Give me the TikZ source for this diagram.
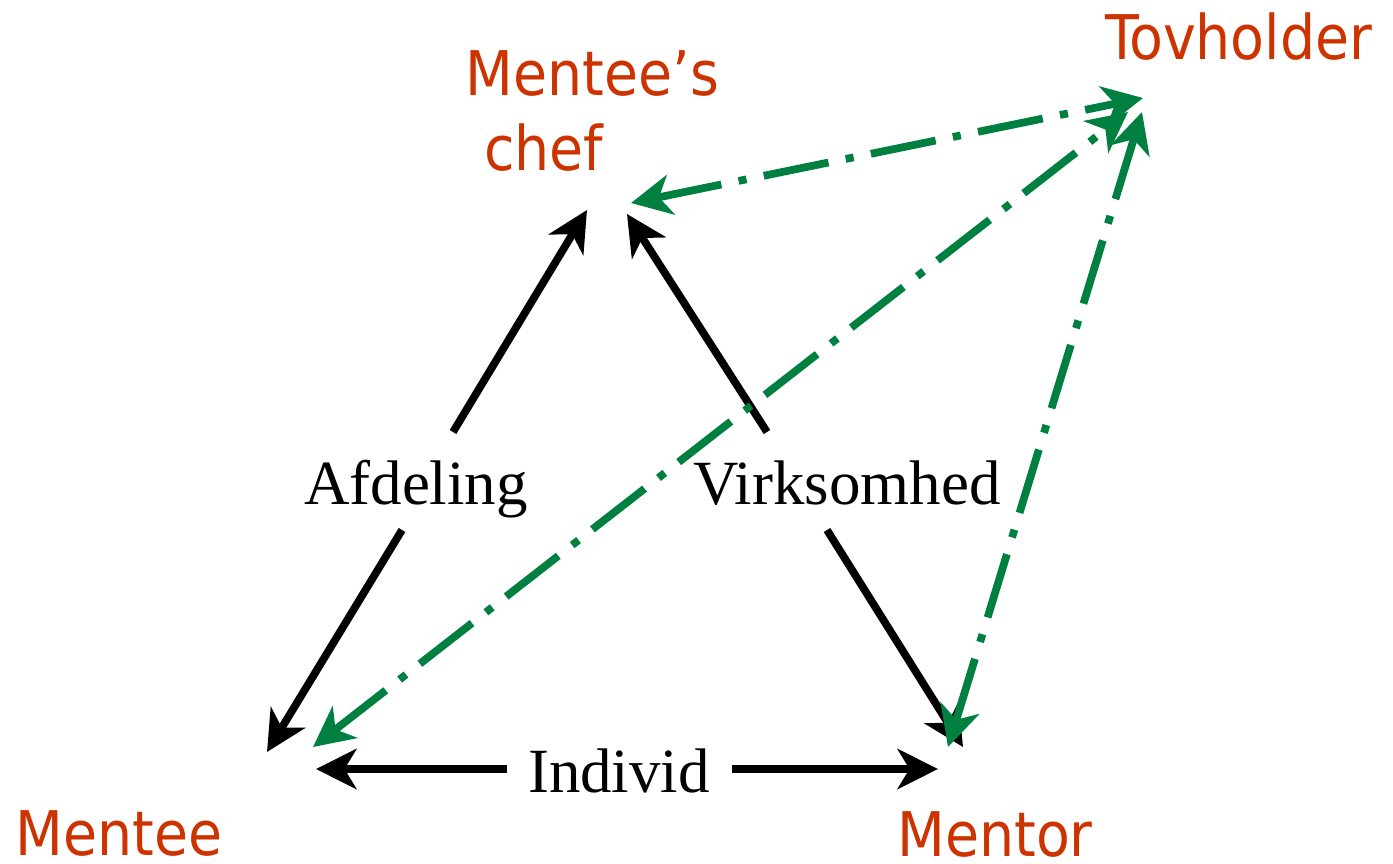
\documentclass[tikz,border=0pt]{standalone}
\usepackage{fontspec}
\setmainfont{Liberation Serif}
\newfontfamily\rolefont{DejaVu Sans Condensed}
\usetikzlibrary{arrows.meta}
\definecolor{rolered}{RGB}{204,51,0}
\definecolor{linkgreen}{RGB}{0,128,64}

\begin{document}
\begin{tikzpicture}[x=0.01cm,y=-0.01cm,
  >={Stealth[length=11.5pt,width=11.4pt,inset=3.4pt]},
  role/.style={text=rolered,font=\rolefont\fontsize{17.5}{21.3}\selectfont,inner sep=0pt},
  level/.style={font=\fontsize{17.9}{21.5}\selectfont,inner sep=0pt},
  flow/.style={->,line width=2.2pt},
  link/.style={<->,draw=linkgreen,line width=2.2pt,dash pattern=on 18.8pt off 5pt on 2.3pt off 5pt}]
\useasboundingbox (0,0) rectangle (1393,863);
%roles
\node[role,anchor=base] (tovholder) at (1239,59) {Tovholder};
\node[role,anchor=base west,align=left] (chef) at (465,170) {Mentee’s\\\hspace*{0.3em}chef};
\node[role,anchor=base] (mentee) at (119,855) {Mentee};
\node[role,anchor=base] (mentor) at (995,856) {Mentor};
%levels
\node[level,anchor=base] (afdeling) at (416,504) {Afdeling};
\node[level,anchor=base] (virksomhed) at (847,504) {Virksomhed};
\node[level,anchor=base] (individ) at (619,792) {Individ};
%arrow ends
\coordinate (afdTop) at (453,432);
\coordinate (afdBot) at (402,530);
\coordinate (virTop) at (767,432);
\coordinate (virBot) at (827,530);
\coordinate (indLeft) at (507,769);
\coordinate (indRight) at (732,769);
\coordinate (chefA) at (587,210);
\coordinate (chefV) at (627,214);
\coordinate (chefT) at (631,203);
\coordinate (menteeA) at (267,752);
\coordinate (menteeI) at (316,769);
\coordinate (menteeT) at (313,747);
\coordinate (mentorV) at (963,747);
\coordinate (mentorI) at (938,769);
\coordinate (mentorT) at (948,747);
\coordinate (tovC) at (1143,98);
\coordinate (tovM) at (1128,112);
\coordinate (tovR) at (1142,112);
%black arrows
\draw[flow] (afdTop) -- (chefA);
\draw[flow] (virTop) -- (chefV);
\draw[flow] (afdBot) -- (menteeA);
\draw[flow] (virBot) -- (mentorV);
\draw[flow] (indLeft) -- (menteeI);
\draw[flow] (indRight) -- (mentorI);
%green links
\draw[link] (chefT) -- (tovC);
\draw[link] (menteeT) -- (tovM);
\draw[link] (mentorT) -- (tovR);
\end{tikzpicture}
\end{document}
